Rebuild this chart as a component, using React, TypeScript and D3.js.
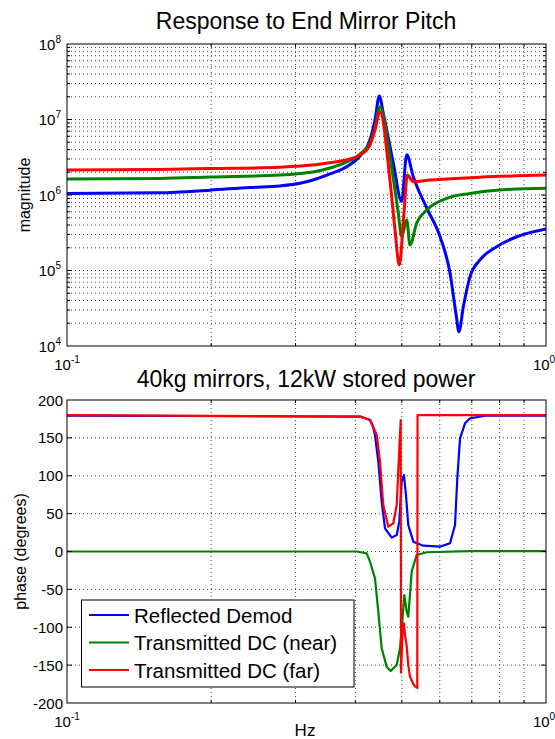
import React from 'react';
import * as d3 from 'd3';

// plot frame (pixels)
const W = 555, H = 739;
const left = 67, right = 546;
const magTop = 44, magBottom = 346;
const phTop = 400, phBottom = 703;

const seriesNames = ['Reflected Demod', 'Transmitted DC (near)', 'Transmitted DC (far)'];
const seriesColors = ['#0000ff', '#008000', '#ff0000'];

// magnitude
const blueMagFreq = [0.1, 0.1564, 0.199, 0.241, 0.2785, 0.3065, 0.3263, 0.354, 0.3843, 0.409, 0.429, 0.4395, 0.4488, 0.4573, 0.48, 0.4996, 0.5119, 0.5284, 0.5637, 0.601, 0.6305, 0.6486, 0.658, 0.672, 0.694, 0.728, 0.789, 0.8686, 1.0];
const blueMag = [1.05e6, 1.07e6, 1.16e6, 1.26e6, 1.32e6, 1.43e6, 1.58e6, 1.9e6, 2.39e6, 3.29e6, 5.35e6, 9.85e6, 2.05e7, 1.22e7, 2.65e6, 8.2e5, 3.4e6, 1.75e6, 6.7e5, 2.8e5, 9.2e4, 2.7e4, 1.55e4, 3.3e4, 8.3e4, 1.38e5, 2.07e5, 2.8e5, 3.55e5];

const greenMagFreq = [0.1, 0.1564, 0.199, 0.2785, 0.3065, 0.3263, 0.354, 0.3843, 0.409, 0.429, 0.4395, 0.4502, 0.4723, 0.4916, 0.4996, 0.5119, 0.52, 0.537, 0.5637, 0.6205, 0.694, 0.789, 1.0];
const greenMag = [1.63e6, 1.66e6, 1.73e6, 1.84e6, 1.93e6, 2.02e6, 2.28e6, 2.74e6, 3.49e6, 4.88e6, 7.7e6, 1.48e7, 3.22e6, 5.78e5, 2.81e5, 4.67e5, 2.18e5, 4.26e5, 6.33e5, 9.04e5, 1.05e6, 1.16e6, 1.23e6];

const redMagFreq = [0.1, 0.1564, 0.199, 0.2785, 0.3065, 0.3263, 0.354, 0.3843, 0.409, 0.429, 0.4395, 0.4502, 0.4723, 0.484, 0.494, 0.5052, 0.5133, 0.5284, 0.5727, 0.6205, 0.728, 1.0];
const redMag = [2.14e6, 2.18e6, 2.24e6, 2.33e6, 2.42e6, 2.49e6, 2.68e6, 2.93e6, 3.39e6, 4.59e6, 7.26e6, 1.27e7, 1.58e6, 3.44e5, 1.18e5, 5.78e5, 1.84e6, 1.5e6, 1.58e6, 1.63e6, 1.72e6, 1.84e6];

// phase (degrees)
const bluePhFreq = [0.1, 0.409, 0.415, 0.4292, 0.4353, 0.4395, 0.4466, 0.4539, 0.4612, 0.4763, 0.4879, 0.494, 0.4997, 0.5052, 0.5101, 0.5158, 0.5284, 0.5543, 0.601, 0.6305, 0.6457, 0.6529, 0.6615, 0.6775, 0.694, 0.7518, 1.0];
const bluePh = [179.5, 178, 177, 173.6, 165, 153.8, 118.6, 65.8, 30.6, 18.3, 21.8, 39.4, 92.2, 101, 74.6, 35, 13, 7.7, 6.4, 10.8, 35, 96.7, 149.4, 169.2, 175.8, 179.5, 179.5];

const greenPhFreq = [0.1, 0.4025, 0.4224, 0.4292, 0.4395, 0.4466, 0.4539, 0.4649, 0.474, 0.4879, 0.4957, 0.5012, 0.506, 0.5119, 0.5158, 0.52, 0.5243, 0.537, 0.5636, 0.694, 1.0];
const greenPh = [0, 0, -2.4, -13.6, -35.5, -79.5, -127.8, -152, -157.7, -149.8, -127.8, -92.7, -57.4, -79.5, -86, -57.4, -26.6, -4.6, -1, 0.5, 0.5];

const redPhFreq = [0.1, 0.409, 0.415, 0.4292, 0.4432, 0.4502, 0.4574, 0.4686, 0.4799, 0.4879, 0.494, 0.4974, 0.4981, 0.5021, 0.5052, 0.5077, 0.5119, 0.5158, 0.52, 0.5284, 0.5327, 0.5386, 0.5393, 1.0];
const redPh = [180, 178, 177, 173.6, 153.8, 118.6, 61.4, 32.8, 37.2, 61.4, 136, 173.6, -160, -101, -95, -110, -125, -150, -165, -175, -178, -180, 180, 180];

const magTickExps = ['4', '5', '6', '7', '8'];
const phaseTicks = [-200, -150, -100, -50, 0, 50, 100, 150, 200];
const freqTickExps = ['-1', '0'];

const x = d3.scaleLog().domain([0.1, 1]).range([left, right]);
const yMag = d3.scaleLog().domain([1e4, 1e8]).range([magBottom, magTop]);
const yPh = d3.scaleLinear().domain([-200, 200]).range([phBottom, phTop]);

const magLine = d3.line<[number, number]>()
  .x(d => x(d[0]))
  .y(d => yMag(d[1]))
  .curve(d3.curveMonotoneX);
const phLine = d3.line<[number, number]>()
  .x(d => x(d[0]))
  .y(d => yPh(d[1]));

const magSeries = [d3.zip(blueMagFreq, blueMag), d3.zip(greenMagFreq, greenMag), d3.zip(redMagFreq, redMag)];
const phSeries = [d3.zip(bluePhFreq, bluePh), d3.zip(greenPhFreq, greenPh), d3.zip(redPhFreq, redPh)];

const font = 'Liberation Sans, Arial, Helvetica, sans-serif';
const gridStyle = { stroke: '#444', strokeWidth: 1, strokeDasharray: '1 3' };

function Pow10({ x, y, exp, anchor }: { x: number; y: number; exp: string; anchor: string }) {
  return (
    <text x={x} y={y} textAnchor={anchor} fontSize={15}>
      10<tspan dy={-7} fontSize={10}>{exp}</tspan>
    </text>
  );
}

function Frame({ top, bottom }: { top: number; bottom: number }) {
  return <rect x={left} y={top} width={right - left} height={bottom - top} fill="none" stroke="#000" strokeWidth={1} />;
}

export default function App() {
  const xMinor = x.ticks().filter(v => v > 0.1 && v < 1);
  const magGrid = yMag.ticks().filter(v => v > 1e4 && v < 1e8);
  const magMajor = [1e5, 1e6, 1e7];
  const phGrid = phaseTicks.filter(v => v > -200 && v < 200);

  return (
    <svg width={W} height={H} style={{ position: 'absolute', left: 0, top: 0, background: '#fff' }} fontFamily={font}>
      <defs>
        <clipPath id="clipMag"><rect x={left} y={magTop} width={right - left} height={magBottom - magTop} /></clipPath>
        <clipPath id="clipPh"><rect x={left} y={phTop} width={right - left} height={phBottom - phTop} /></clipPath>
      </defs>
      <rect width={W} height={H} fill="#fff" />

      {/* ---- magnitude plot ---- */}
      <text x={306} y={29} textAnchor="middle" fontSize={23}>Response to End Mirror Pitch</text>
      <g>
        {magGrid.map((v, i) => (
          <line key={'mg' + i} x1={left} x2={right} y1={yMag(v)} y2={yMag(v)} style={gridStyle} />
        ))}
        {xMinor.map((v, i) => (
          <line key={'mx' + i} x1={x(v)} x2={x(v)} y1={magTop} y2={magBottom} style={gridStyle} />
        ))}
      </g>
      <g clipPath="url(#clipMag)">
        {magSeries.map((s, i) => (
          <path key={i} d={magLine(s as [number, number][]) || ''} fill="none" stroke={seriesColors[i]} strokeWidth={3} strokeLinejoin="round" />
        ))}
      </g>
      <Frame top={magTop} bottom={magBottom} />
      <g stroke="#000" strokeWidth={1}>
        {magGrid.map((v, i) => {
          const len = magMajor.includes(v) ? 5 : 3;
          return (
            <g key={'mt' + i}>
              <line x1={left} x2={left + len} y1={yMag(v)} y2={yMag(v)} />
              <line x1={right} x2={right - len} y1={yMag(v)} y2={yMag(v)} />
            </g>
          );
        })}
        {xMinor.map((v, i) => (
          <g key={'mxt' + i}>
            <line x1={x(v)} x2={x(v)} y1={magBottom} y2={magBottom - 3} />
            <line x1={x(v)} x2={x(v)} y1={magTop} y2={magTop + 3} />
          </g>
        ))}
      </g>
      {magTickExps.map((e, i) => (
        <Pow10 key={'ml' + i} x={61} y={yMag(Math.pow(10, +e)) + 5.5} exp={e} anchor="end" />
      ))}
      {freqTickExps.map((e, i) => (
        <Pow10 key={'fl' + i} x={x(Math.pow(10, +e)) - (i === 0 ? 0 : 2)} y={magBottom + 24} exp={e} anchor="middle" />
      ))}
      <text transform={`translate(30,${(magTop + magBottom) / 2}) rotate(-90)`} textAnchor="middle" fontSize={16}>magnitude</text>

      {/* ---- phase plot ---- */}
      <text x={306} y={387} textAnchor="middle" fontSize={23}>40kg mirrors, 12kW stored power</text>
      <g>
        {phGrid.map((v, i) => (
          <line key={'pg' + i} x1={left} x2={right} y1={yPh(v)} y2={yPh(v)} style={gridStyle} />
        ))}
        {xMinor.map((v, i) => (
          <line key={'px' + i} x1={x(v)} x2={x(v)} y1={phTop} y2={phBottom} style={gridStyle} />
        ))}
      </g>
      <g clipPath="url(#clipPh)">
        {phSeries.map((s, i) => (
          <path key={i} d={phLine(s as [number, number][]) || ''} fill="none" stroke={seriesColors[i]} strokeWidth={2.2} strokeLinejoin="round" />
        ))}
      </g>
      <Frame top={phTop} bottom={phBottom} />
      <g stroke="#000" strokeWidth={1}>
        {phGrid.map((v, i) => (
          <g key={'pt' + i}>
            <line x1={left} x2={left + 5} y1={yPh(v)} y2={yPh(v)} />
            <line x1={right} x2={right - 5} y1={yPh(v)} y2={yPh(v)} />
          </g>
        ))}
        {xMinor.map((v, i) => (
          <g key={'pxt' + i}>
            <line x1={x(v)} x2={x(v)} y1={phBottom} y2={phBottom - 3} />
            <line x1={x(v)} x2={x(v)} y1={phTop} y2={phTop + 3} />
          </g>
        ))}
      </g>
      {phaseTicks.map((v, i) => (
        <text key={'pl' + i} x={63} y={yPh(v) + 5.5} textAnchor="end" fontSize={15}>{v}</text>
      ))}
      {freqTickExps.map((e, i) => (
        <Pow10 key={'fl2' + i} x={x(Math.pow(10, +e)) - (i === 0 ? 0 : 2)} y={phBottom + 24} exp={e} anchor="middle" />
      ))}
      <text transform={`translate(26,${(phTop + phBottom) / 2}) rotate(-90)`} textAnchor="middle" fontSize={16}>phase (degrees)</text>
      <text x={305} y={736} textAnchor="middle" fontSize={17}>Hz</text>

      {/* legend */}
      <g>
        <rect x={81.5} y={600} width={272.5} height={87} fill="#fff" stroke="#000" strokeWidth={1} />
        {seriesNames.map((n, i) => (
          <g key={'lg' + i}>
            <line x1={89} x2={129} y1={615 + i * 27.5} y2={615 + i * 27.5} stroke={seriesColors[i]} strokeWidth={2} />
            <text x={134} y={615 + i * 27.5 + 7.5} fontSize={20.5}>{n}</text>
          </g>
        ))}
      </g>
    </svg>
  );
}
